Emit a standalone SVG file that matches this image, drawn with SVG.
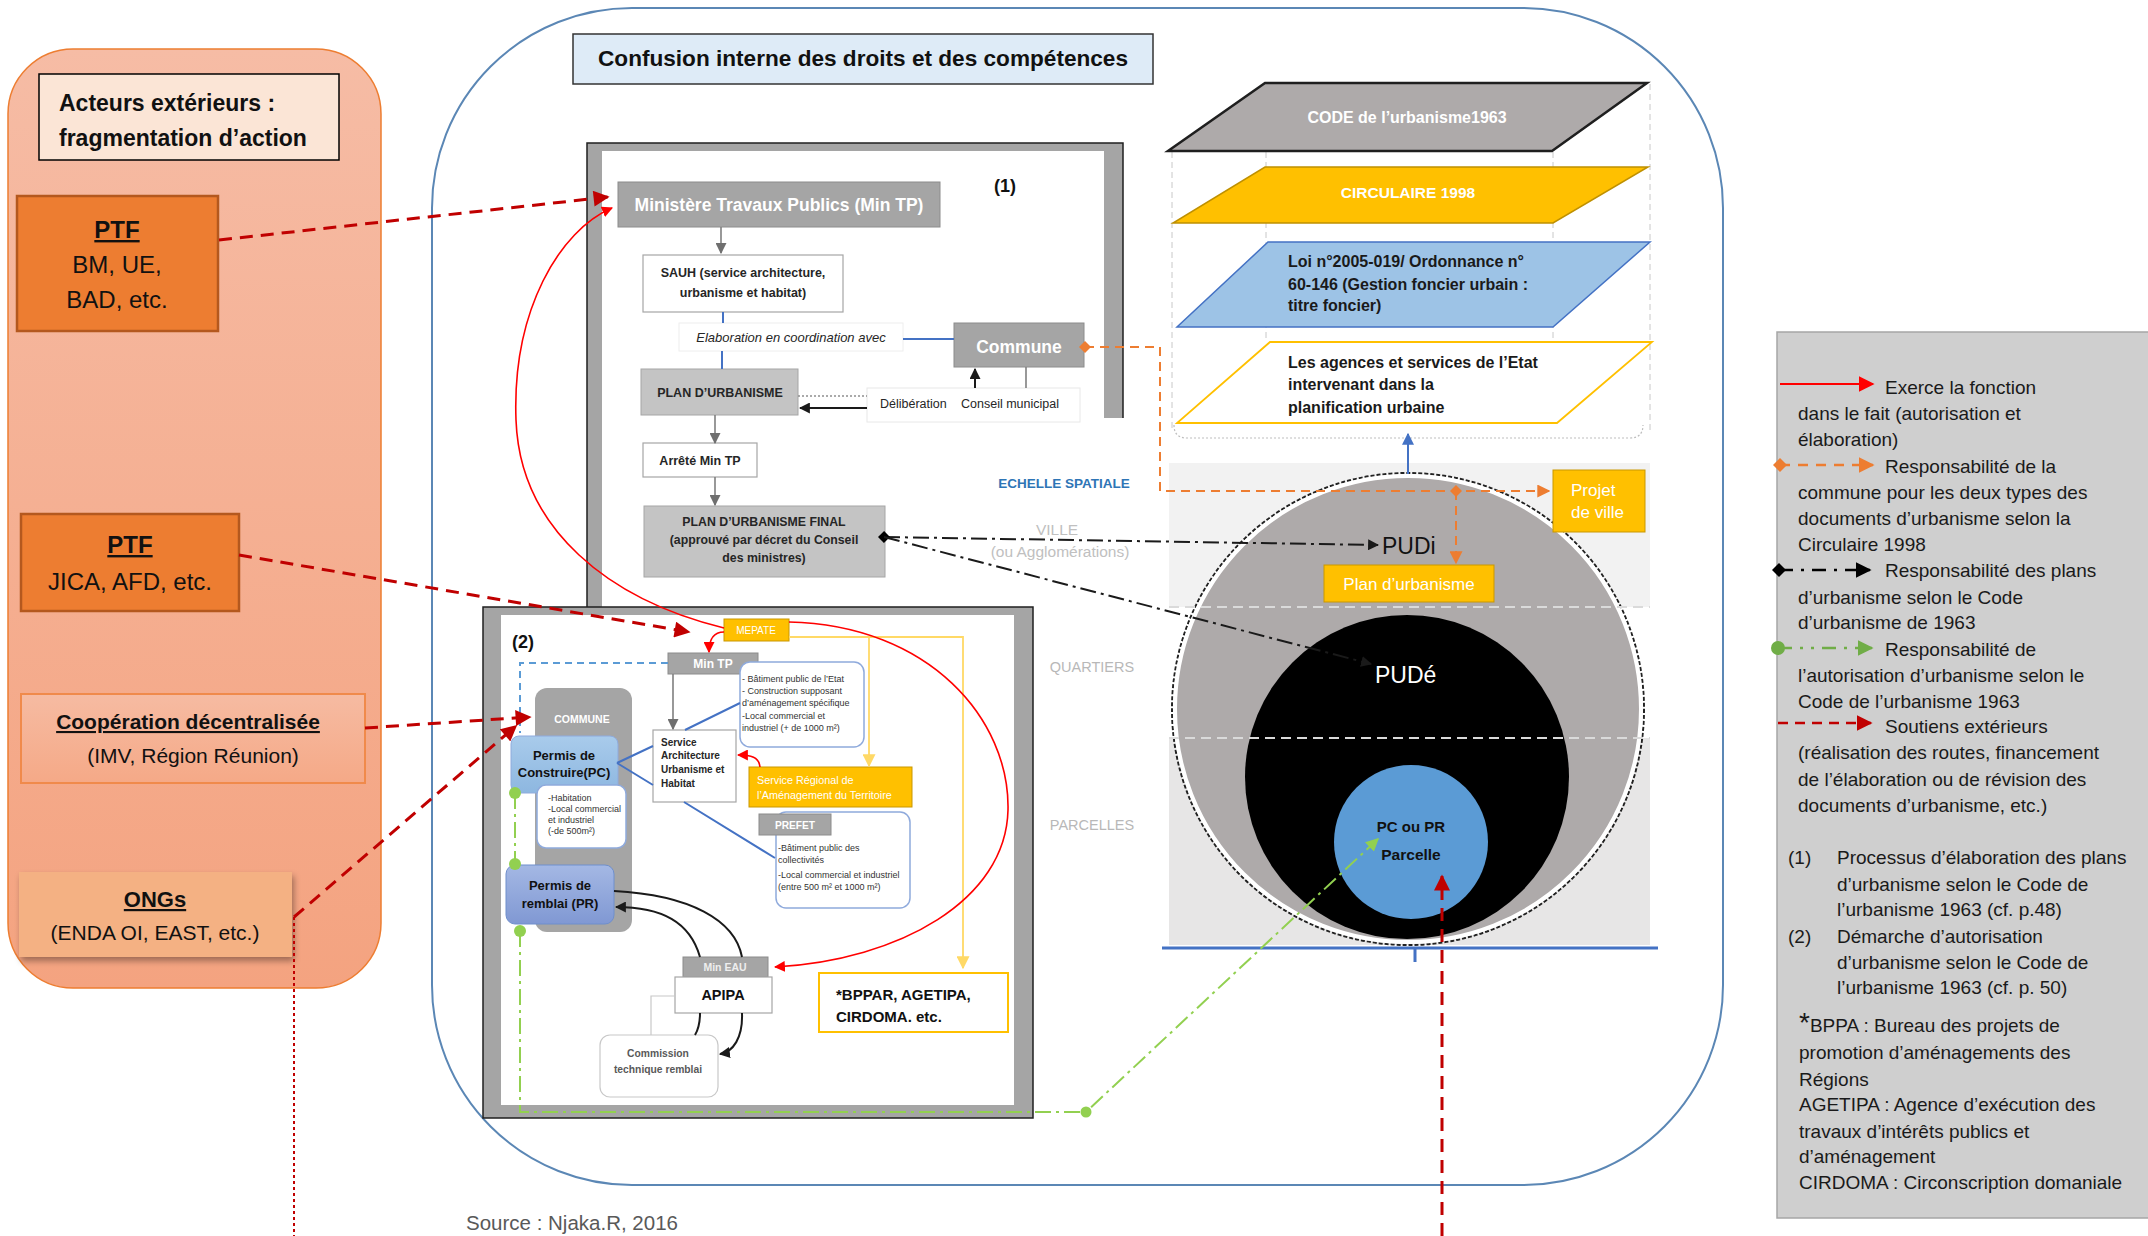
<svg xmlns="http://www.w3.org/2000/svg" width="2148" height="1236" viewBox="0 0 2148 1236">
<defs>
<style>
text{font-family:"Liberation Sans",Arial,sans-serif;}
.b{font-weight:bold}
.i{font-style:italic}
.w{fill:#fff}
.dk{fill:#262626}
.c{text-anchor:middle}
.u{text-decoration:underline}
.lg{font-size:19px;fill:#1a1a1a}
.gbox{fill:#A5A5A5;stroke:#8c8c8c;stroke-width:1}
.wbox{fill:#fff;stroke:#a6a6a6;stroke-width:1.2}
.ybox{fill:#FFC000;stroke:#C99700;stroke-width:1}
.blist{fill:#fff;stroke:#8FAADC;stroke-width:1.5}
.frame{fill:#A5A5A5;stroke:#1f1f1f;stroke-width:1.5}
.sup{fill:none;stroke:#C00000;stroke-width:3;stroke-dasharray:13 8}
.red{fill:none;stroke:#FF0000;stroke-width:1.6}
.blk{fill:none;stroke:#1a1a1a;stroke-width:2}
.gry{fill:none;stroke:#7f7f7f;stroke-width:1.6}
.blu{fill:none;stroke:#4472C4;stroke-width:2}
.org{fill:none;stroke:#ED7D31;stroke-width:2;stroke-dasharray:9 6}
.dd{fill:none;stroke:#1a1a1a;stroke-width:2;stroke-dasharray:16 5 3 5}
.grn{fill:none;stroke:#92D050;stroke-width:2;stroke-dasharray:16 5 3 5}
.yel{fill:none;stroke:#FFD966;stroke-width:1.8}
.vd{fill:none;stroke:#C8C8C8;stroke-width:1;stroke-dasharray:6 4}
.small{font-size:9px;fill:#333}
</style>
<linearGradient id="gLeft" x1="0" y1="0" x2="0" y2="1"><stop offset="0" stop-color="#F6BCA5"/><stop offset="1" stop-color="#F4A380"/></linearGradient>
<linearGradient id="gCoop" x1="0" y1="0" x2="0" y2="1"><stop offset="0" stop-color="#F6BBA2"/><stop offset="1" stop-color="#F5A987"/></linearGradient>
<linearGradient id="gPC" x1="0" y1="0" x2="0" y2="1"><stop offset="0" stop-color="#A9CBEB"/><stop offset="1" stop-color="#8DB7E0"/></linearGradient>
<linearGradient id="gPR" x1="0" y1="0" x2="0" y2="1"><stop offset="0" stop-color="#A4B8E4"/><stop offset="1" stop-color="#8098D3"/></linearGradient>
<filter id="shd" x="-10%" y="-10%" width="130%" height="140%"><feDropShadow dx="2" dy="4" stdDeviation="3" flood-color="#000" flood-opacity="0.35"/></filter>
<marker id="aDRed" viewBox="0 0 10 10" refX="9" refY="5" markerWidth="18" markerHeight="16" markerUnits="userSpaceOnUse" orient="auto"><path d="M0,0 L10,5 L0,10 z" fill="#C00000"/></marker>
<marker id="aRed" viewBox="0 0 10 10" refX="9" refY="5" markerWidth="11" markerHeight="11" markerUnits="userSpaceOnUse" orient="auto"><path d="M0,0 L10,5 L0,10 z" fill="#FF0000"/></marker>
<marker id="aBlk" viewBox="0 0 10 10" refX="9" refY="5" markerWidth="11" markerHeight="11" markerUnits="userSpaceOnUse" orient="auto"><path d="M0,0 L10,5 L0,10 z" fill="#1a1a1a"/></marker>
<marker id="aGry" viewBox="0 0 10 10" refX="9" refY="5" markerWidth="11" markerHeight="11" markerUnits="userSpaceOnUse" orient="auto"><path d="M0,0 L10,5 L0,10 z" fill="#6f6f6f"/></marker>
<marker id="aOrg" viewBox="0 0 10 10" refX="9" refY="5" markerWidth="13" markerHeight="13" markerUnits="userSpaceOnUse" orient="auto"><path d="M0,0 L10,5 L0,10 z" fill="#ED7D31"/></marker>
<marker id="dOrg" viewBox="0 0 10 10" refX="5" refY="5" markerWidth="12" markerHeight="12" markerUnits="userSpaceOnUse" orient="auto"><path d="M0,5 L5,0 L10,5 L5,10 z" fill="#ED7D31"/></marker>
<marker id="dBlk" viewBox="0 0 10 10" refX="5" refY="5" markerWidth="12" markerHeight="12" markerUnits="userSpaceOnUse" orient="auto"><path d="M0,5 L5,0 L10,5 L5,10 z" fill="#000"/></marker>
<marker id="aGrn" viewBox="0 0 10 10" refX="9" refY="5" markerWidth="13" markerHeight="13" markerUnits="userSpaceOnUse" orient="auto"><path d="M0,0 L10,5 L0,10 z" fill="#92D050"/></marker>
<marker id="aYel" viewBox="0 0 10 10" refX="9" refY="5" markerWidth="13" markerHeight="13" markerUnits="userSpaceOnUse" orient="auto"><path d="M0,0 L10,5 L0,10 z" fill="#FFD966"/></marker>
<marker id="aBlu" viewBox="0 0 10 10" refX="9" refY="5" markerWidth="12" markerHeight="12" markerUnits="userSpaceOnUse" orient="auto"><path d="M0,0 L10,5 L0,10 z" fill="#4472C4"/></marker>
<marker id="LaRed" viewBox="0 0 10 10" refX="9" refY="5" markerWidth="16" markerHeight="16" markerUnits="userSpaceOnUse" orient="auto"><path d="M0,0 L10,5 L0,10 z" fill="#FF0000"/></marker>
<marker id="LaOrg" viewBox="0 0 10 10" refX="9" refY="5" markerWidth="16" markerHeight="16" markerUnits="userSpaceOnUse" orient="auto"><path d="M0,0 L10,5 L0,10 z" fill="#ED7D31"/></marker>
<marker id="LdOrg" viewBox="0 0 10 10" refX="5" refY="5" markerWidth="14" markerHeight="14" markerUnits="userSpaceOnUse" orient="auto"><path d="M0,5 L5,0 L10,5 L5,10 z" fill="#ED7D31"/></marker>
<marker id="LaBlk" viewBox="0 0 10 10" refX="9" refY="5" markerWidth="16" markerHeight="16" markerUnits="userSpaceOnUse" orient="auto"><path d="M0,0 L10,5 L0,10 z" fill="#000"/></marker>
<marker id="LdBlk" viewBox="0 0 10 10" refX="5" refY="5" markerWidth="14" markerHeight="14" markerUnits="userSpaceOnUse" orient="auto"><path d="M0,5 L5,0 L10,5 L5,10 z" fill="#000"/></marker>
<marker id="LaGrn" viewBox="0 0 10 10" refX="9" refY="5" markerWidth="16" markerHeight="16" markerUnits="userSpaceOnUse" orient="auto"><path d="M0,0 L10,5 L0,10 z" fill="#70AD47"/></marker>
<marker id="LaDRed" viewBox="0 0 10 10" refX="9" refY="5" markerWidth="16" markerHeight="16" markerUnits="userSpaceOnUse" orient="auto"><path d="M0,0 L10,5 L0,10 z" fill="#C00000"/></marker>
</defs>

<rect x="0" y="0" width="2148" height="1236" fill="#fff"/>

<!-- Left panel -->
<g id="panel-exterieurs">
<rect x="8" y="49" width="373" height="939" rx="65" fill="url(#gLeft)" stroke="#ED7D31" stroke-width="1.5"/>
</g>
<g id="title-exterieurs">
<rect x="39" y="74" width="300" height="86" fill="#FBE5D6" stroke="#000" stroke-width="1.5"/>
<text x="59" y="111" class="b" font-size="23" fill="#111">Acteurs extérieurs :</text>
<text x="59" y="146" class="b" font-size="23" fill="#111">fragmentation d’action</text>
</g>
<g id="ptf1">
<rect x="17" y="196" width="201" height="135" fill="#ED7D31" stroke="#B4581E" stroke-width="2.5"/>
<text x="117" y="238" class="b c u" font-size="24" fill="#111">PTF</text>
<text x="117" y="273" class="c" font-size="24" fill="#111">BM, UE,</text>
<text x="117" y="308" class="c" font-size="24" fill="#111">BAD, etc.</text>
</g>
<g id="ptf2">
<rect x="21" y="514" width="218" height="97" fill="#ED7D31" stroke="#B4581E" stroke-width="2.5"/>
<text x="130" y="553" class="b c u" font-size="24" fill="#111">PTF</text>
<text x="130" y="590" class="c" font-size="24" fill="#111">JICA, AFD, etc.</text>
</g>
<g id="coop">
<rect x="21" y="694" width="344" height="89" fill="url(#gCoop)" stroke="#F08A4B" stroke-width="2"/>
<text x="188" y="729" class="b c u" font-size="21" fill="#111">Coopération décentralisée</text>
<text x="193" y="763" class="c" font-size="21" fill="#111">(IMV, Région Réunion)</text>
</g>
<g id="ongs">
<rect x="19" y="872" width="273" height="85" fill="#F4B183" filter="url(#shd)"/>
<text x="155" y="907" class="b c u" font-size="22" fill="#111">ONGs</text>
<text x="155" y="940" class="c" font-size="21" fill="#111">(ENDA OI, EAST, etc.)</text>
</g>

<!-- main container -->
<g id="container">
<rect x="432" y="8" width="1291" height="1177" rx="200" fill="none" stroke="#5B87B5" stroke-width="2"/>
</g>
<g id="title-confusion">
<rect x="573" y="34" width="580" height="50" fill="#DEEBF7" stroke="#333" stroke-width="1.5"/>
<text x="863" y="66" class="b c" font-size="22" fill="#111" textLength="530" lengthAdjust="spacingAndGlyphs">Confusion interne des droits et des compétences</text>
</g>

<!-- Frame (1) -->
<g id="frame1">
<rect x="587" y="143" width="536" height="475" class="frame"/>
<rect x="602" y="151" width="502" height="470" fill="#fff"/>
<rect x="1034" y="418" width="95" height="205" fill="#fff"/>
<text x="1005" y="192" class="b c" font-size="18" fill="#111">(1)</text>
</g>
<g id="min-tp">
<rect x="618" y="182" width="322" height="45" class="gbox"/>
<text x="779" y="211" class="b c w" font-size="17.5">Ministère Travaux Publics (Min TP)</text>
</g>
<g id="sauh">
<rect x="643" y="255" width="200" height="57" class="wbox"/>
<text x="743" y="277" class="b c dk" font-size="12.5">SAUH (service architecture,</text>
<text x="743" y="297" class="b c dk" font-size="12.5">urbanisme et habitat)</text>
</g>
<g id="elaboration">
<rect x="679" y="323" width="224" height="28" fill="#fff" stroke="#eeeeee"/>
<text x="791" y="342" class="i c dk" font-size="13">Elaboration en coordination avec</text>
</g>
<g id="commune1">
<rect x="954" y="323" width="130" height="44" class="gbox"/>
<text x="1019" y="353" class="b c w" font-size="17.5">Commune</text>
</g>
<g id="plan-urbanisme">
<rect x="641" y="369" width="157" height="46" fill="#C4C4C4" stroke="#a6a6a6"/>
<text x="720" y="397" class="b c dk" font-size="12.5">PLAN D’URBANISME</text>
</g>
<g id="deliberation">
<rect x="867" y="388" width="213" height="34" fill="#fff" stroke="#e8e8e8"/>
<text x="880" y="408" class="dk" font-size="12.5">Délibération</text>
<text x="961" y="408" class="dk" font-size="12.5">Conseil municipal</text>
</g>
<g id="arrete">
<rect x="643" y="443" width="114" height="34" class="wbox"/>
<text x="700" y="465" class="b c dk" font-size="12.5">Arrêté Min TP</text>
</g>
<g id="plan-final">
<rect x="644" y="506" width="241" height="71" fill="#C4C4C4" stroke="#a6a6a6"/>
<text x="764" y="526" class="b c dk" font-size="12.3">PLAN D’URBANISME FINAL</text>
<text x="764" y="544" class="b c dk" font-size="12.3">(approuvé par décret du Conseil</text>
<text x="764" y="562" class="b c dk" font-size="12.3">des ministres)</text>
</g>

<!-- Frame (2) -->
<g id="frame2">
<rect x="483" y="607" width="550" height="511" class="frame"/>
<rect x="501" y="615" width="513" height="490" fill="#fff"/>
<text x="523" y="648" class="b c" font-size="18" fill="#111">(2)</text>
</g>
<g id="mepate">
<rect x="724" y="619" width="65" height="22" class="ybox"/>
<text x="756" y="634" class="c w" font-size="10">MEPATE</text>
</g>
<g id="min-tp2">
<rect x="668" y="653" width="90" height="21" class="gbox"/>
<text x="713" y="668" class="b c w" font-size="12">Min TP</text>
</g>
<g id="list-mintp">
<rect x="740" y="662" width="124" height="85" rx="10" class="blist"/>
<text x="742" y="682" class="small">- Bâtiment public de l’Etat</text>
<text x="742" y="694" class="small">- Construction supposant</text>
<text x="742" y="706" class="small">d’aménagement spécifique</text>
<text x="742" y="719" class="small">-Local commercial et</text>
<text x="742" y="731" class="small">industriel (+ de 1000 m²)</text>
</g>
<g id="commune2">
<rect x="535" y="688" width="97" height="244" rx="12" fill="#A5A5A5"/>
<text x="582" y="723" class="b c w" font-size="10.5">COMMUNE</text>
</g>
<g id="pc">
<rect x="511" y="736" width="107" height="57" rx="8" fill="url(#gPC)" stroke="#8FAADC" stroke-width="1"/>
<text x="564" y="760" class="b c" font-size="13" fill="#111">Permis de</text>
<text x="564" y="777" class="b c" font-size="13" fill="#111">Construire(PC)</text>
</g>
<g id="list-pc">
<rect x="537" y="785" width="89" height="63" rx="9" class="blist"/>
<text x="548" y="801" class="small" font-size="8.5">-Habitation</text>
<text x="548" y="812" class="small" font-size="8.5">-Local commercial</text>
<text x="548" y="823" class="small" font-size="8.5">et industriel</text>
<text x="548" y="834" class="small" font-size="8.5">(-de 500m²)</text>
</g>
<g id="pr">
<rect x="506" y="865" width="108" height="59" rx="9" fill="url(#gPR)" stroke="#6f8fcc" stroke-width="1"/>
<text x="560" y="890" class="b c" font-size="13" fill="#111">Permis de</text>
<text x="560" y="908" class="b c" font-size="13" fill="#111">remblai (PR)</text>
</g>
<g id="service-auh">
<rect x="653" y="730" width="83" height="72" class="wbox"/>
<text x="661" y="746" class="b dk" font-size="10">Service</text>
<text x="661" y="759" class="b dk" font-size="10">Architecture</text>
<text x="661" y="773" class="b dk" font-size="10">Urbanisme et</text>
<text x="661" y="787" class="b dk" font-size="10">Habitat</text>
</g>
<g id="service-regional">
<rect x="749" y="767" width="163" height="40" class="ybox"/>
<text x="757" y="784" class="w" font-size="10.8">Service Régional de</text>
<text x="757" y="799" class="w" font-size="10.8">l’Aménagement du Territoire</text>
</g>
<g id="list-prefet">
<rect x="776" y="812" width="134" height="96" rx="10" class="blist"/>
<text x="778" y="851" class="small">-Bâtiment public  des</text>
<text x="778" y="863" class="small">collectivités</text>
<text x="778" y="878" class="small">-Local commercial et industriel</text>
<text x="778" y="890" class="small">(entre 500 m² et 1000 m²)</text>
</g>
<g id="prefet">
<rect x="759" y="814" width="72" height="21" class="gbox"/>
<text x="795" y="829" class="b c w" font-size="10.2">PREFET</text>
</g>
<g id="min-eau">
<rect x="683" y="957" width="85" height="20" class="gbox"/>
<text x="725" y="971" class="b c" font-size="10.5" fill="#eeeeee">Min EAU</text>
</g>
<g id="apipa">
<rect x="675" y="977" width="97" height="36" class="wbox"/>
<text x="723" y="1000" class="b c" font-size="14.5" fill="#111">APIPA</text>
</g>
<g id="commission">
<rect x="600" y="1035" width="118" height="62" rx="10" fill="#fff" stroke="#c8c8c8" stroke-width="1.2"/>
<text x="658" y="1057" class="b c" font-size="10.3" fill="#595959">Commission</text>
<text x="658" y="1073" class="b c" font-size="10.3" fill="#595959">technique remblai</text>
</g>
<g id="bppar">
<rect x="819" y="973" width="189" height="59" fill="#fff" stroke="#FFC000" stroke-width="2"/>
<text x="836" y="1000" class="b" font-size="15" fill="#111">*BPPAR, AGETIPA,</text>
<text x="836" y="1022" class="b" font-size="15" fill="#111">CIRDOMA. etc.</text>
</g>

<!-- Right: legal planes -->
<g id="planes-outline">
<path d="M1174,425 Q1174,438 1187,438 L1630,438 Q1643,438 1643,425" fill="none" stroke="#BDBDBD" stroke-width="1.2" stroke-dasharray="2 2"/>
<path d="M1172,152 L1172,430 M1266,152 L1266,342 M1553,152 L1553,342 M1650,84 L1650,430" class="vd"/>
</g>
<g id="plane-code">
<polygon points="1265,83 1647,83 1552,151 1168,151" fill="#AEAAAA" stroke="#1f1f1f" stroke-width="2.5"/>
<text x="1407" y="123" class="b c w" font-size="16">CODE de l’urbanisme1963</text>
</g>
<g id="plane-circulaire">
<polygon points="1265,167 1648,167 1553,223 1173,223" fill="#FFC000" stroke="#BF9000" stroke-width="1.5"/>
<text x="1408" y="198" class="b c w" font-size="15.5">CIRCULAIRE 1998</text>
</g>
<g id="plane-loi">
<polygon points="1268,242 1650,242 1553,327 1177,327" fill="#9DC3E6" stroke="#4472C4" stroke-width="1.5"/>
<text x="1288" y="267" class="b" font-size="16" fill="#1a1a1a">Loi n°2005-019/ Ordonnance n°</text>
<text x="1288" y="290" class="b" font-size="16" fill="#1a1a1a">60-146 (Gestion foncier urbain :</text>
<text x="1288" y="311" class="b" font-size="16" fill="#1a1a1a">titre foncier)</text>
</g>
<g id="plane-agences">
<polygon points="1270,342 1652,342 1557,423 1177,423" fill="#fff" stroke="#FFC000" stroke-width="1.8"/>
<text x="1288" y="368" class="b" font-size="16" fill="#1a1a1a">Les agences et services de l’Etat</text>
<text x="1288" y="390" class="b" font-size="16" fill="#1a1a1a">intervenant dans la</text>
<text x="1288" y="413" class="b" font-size="16" fill="#1a1a1a">planification urbaine</text>
</g>

<!-- Spatial scale -->
<g id="echelle">
<rect x="1169" y="463" width="481" height="144" fill="#F2F2F2"/>
<rect x="1169" y="738" width="481" height="207" fill="#E7E6E6"/>
<text x="1064" y="488" class="b c" font-size="13.5" fill="#2E75B6">ECHELLE SPATIALE</text>
<text x="1057" y="535" class="c" font-size="15.5" fill="#C0C0C0">VILLE</text>
<text x="1060" y="557" class="c" font-size="15.5" fill="#C0C0C0">(ou Agglomérations)</text>
<text x="1092" y="672" class="c" font-size="14.5" fill="#B8B8B8">QUARTIERS</text>
<text x="1092" y="830" class="c" font-size="14.5" fill="#B8B8B8">PARCELLES</text>
</g>
<g id="circle-ville">
<circle cx="1408" cy="709" r="236" fill="none" stroke="#222" stroke-width="2" stroke-dasharray="4 2"/>
<circle cx="1408" cy="709" r="233" fill="#AEAAAA" stroke="#fff" stroke-width="4"/>
<text x="1382" y="554" font-size="23" fill="#111">PUDi</text>
</g>
<g id="circle-quartier">
<circle cx="1407" cy="777" r="162" fill="#000"/>
<text x="1375" y="683" font-size="23" fill="#fff">PUDé</text>
</g>
<g id="band-lines">
<path d="M1169,607 L1650,607 M1169,738 L1650,738" fill="none" stroke="#DADADA" stroke-width="2" stroke-dasharray="10 6"/>
</g>
<g id="circle-parcelle">
<circle cx="1411" cy="842" r="77" fill="#5B9BD5"/>
<text x="1411" y="832" class="b c" font-size="15" fill="#111">PC ou PR</text>
<text x="1411" y="860" class="b c" font-size="15.5" fill="#111">Parcelle</text>
</g>
<g id="projet-ville">
<rect x="1553" y="470" width="92" height="62" class="ybox"/>
<text x="1571" y="496" class="w" font-size="17">Projet</text>
<text x="1571" y="518" class="w" font-size="17">de ville</text>
</g>
<g id="plan-urba-box">
<rect x="1324" y="565" width="170" height="37" class="ybox"/>
<text x="1409" y="590" class="c w" font-size="17">Plan d’urbanisme</text>
</g>
<g id="axis">
<path d="M1162,948 L1658,948 M1415,948 L1415,962" fill="none" stroke="#4472C4" stroke-width="3"/>
</g>

<!-- Legend -->
<g id="legend">
<rect x="1777" y="332" width="375" height="886" fill="#CFCFCF" stroke="#A6A6A6" stroke-width="1.5"/>
<path d="M1780,384 L1873,384" fill="none" stroke="#FF0000" stroke-width="2" marker-end="url(#LaRed)"/>
<text x="1885" y="394" class="lg">Exerce la fonction</text>
<text x="1798" y="420" class="lg">dans le fait (autorisation et</text>
<text x="1798" y="446" class="lg">élaboration)</text>
<path d="M1780,465 L1873,465" fill="none" stroke="#ED7D31" stroke-width="2.5" stroke-dasharray="10 8" marker-start="url(#LdOrg)" marker-end="url(#LaOrg)"/>
<text x="1885" y="473" class="lg">Responsabilité de la</text>
<text x="1798" y="499" class="lg">commune pour les deux types des</text>
<text x="1798" y="525" class="lg">documents d’urbanisme selon la</text>
<text x="1798" y="551" class="lg">Circulaire 1998</text>
<path d="M1779,570 L1870,570" fill="none" stroke="#000" stroke-width="2.5" stroke-dasharray="14 8 3 8" marker-start="url(#LdBlk)" marker-end="url(#LaBlk)"/>
<text x="1885" y="577" class="lg">Responsabilité des plans</text>
<text x="1798" y="604" class="lg">d’urbanisme selon le Code</text>
<text x="1798" y="629" class="lg">d’urbanisme de 1963</text>
<circle cx="1778" cy="648" r="7" fill="#70AD47"/>
<path d="M1778,648 L1872,648" fill="none" stroke="#70AD47" stroke-width="2.5" stroke-dasharray="14 8 3 8 3 8" marker-end="url(#LaGrn)"/>
<text x="1885" y="656" class="lg">Responsabilité de</text>
<text x="1798" y="682" class="lg">l’autorisation d’urbanisme selon le</text>
<text x="1798" y="708" class="lg">Code de l’urbanisme 1963</text>
<path d="M1778,723 L1871,723" fill="none" stroke="#C00000" stroke-width="2.5" stroke-dasharray="10 7" marker-end="url(#LaDRed)"/>
<text x="1885" y="733" class="lg">Soutiens extérieurs</text>
<text x="1798" y="759" class="lg">(réalisation des routes, financement</text>
<text x="1798" y="786" class="lg">de l’élaboration ou de révision des</text>
<text x="1798" y="812" class="lg">documents d’urbanisme, etc.)</text>
<text x="1788" y="864" class="lg">(1)</text>
<text x="1837" y="864" class="lg">Processus d’élaboration des plans</text>
<text x="1837" y="891" class="lg">d’urbanisme selon le Code de</text>
<text x="1837" y="916" class="lg">l’urbanisme 1963 (cf. p.48)</text>
<text x="1788" y="943" class="lg">(2)</text>
<text x="1837" y="943" class="lg">Démarche d’autorisation</text>
<text x="1837" y="969" class="lg">d’urbanisme selon le Code de</text>
<text x="1837" y="994" class="lg">l’urbanisme 1963 (cf. p. 50)</text>
<text x="1799" y="1032" class="lg"><tspan font-size="28">*</tspan>BPPA : Bureau des projets de</text>
<text x="1799" y="1059" class="lg">promotion d’aménagements des</text>
<text x="1799" y="1086" class="lg">Régions</text>
<text x="1799" y="1111" class="lg">AGETIPA : Agence d’exécution des</text>
<text x="1799" y="1138" class="lg">travaux d’intérêts publics et</text>
<text x="1799" y="1163" class="lg">d’aménagement</text>
<text x="1799" y="1189" class="lg">CIRDOMA : Circonscription domaniale</text>
</g>

<g id="source">
<text x="466" y="1230" font-size="20.5" fill="#595959">Source : Njaka.R, 2016</text>
</g>

<!-- Connectors -->
<g id="connectors">
<path d="M721,227 L721,253" class="gry" marker-end="url(#aGry)"/>
<path d="M723,312 L723,323 M722,351 L722,369 M903,339 L954,339" class="blu"/>
<path d="M1026,367 L1026,388" class="gry"/>
<path d="M975,388 L975,369" class="blk" stroke-width="1.6" marker-end="url(#aBlk)"/>
<path d="M798,396 L867,396" fill="none" stroke="#8f8f8f" stroke-width="1.5" stroke-dasharray="2 2"/>
<path d="M867,408 L800,408" class="blk" stroke-width="1.8" marker-end="url(#aBlk)"/>
<path d="M715,415 L715,443" class="gry" marker-end="url(#aGry)"/>
<path d="M715,477 L715,505" class="gry" marker-end="url(#aGry)"/>
<path d="M668,663 L520,663 L520,733" fill="none" stroke="#5B9BD5" stroke-width="2" stroke-dasharray="7 5"/>
<path d="M673,674 L673,729" class="gry" stroke-width="1.2" marker-end="url(#aGry)"/>
<path d="M685,730 L740,703 M617,763 L653,746 M617,763 L653,785 M684,802 L775,858" class="blu" stroke-width="1.8"/>
<path d="M789,637 L963,637 L963,968" class="yel" marker-end="url(#aYel)"/>
<path d="M869,637 L869,766" class="yel" marker-end="url(#aYel)"/>
<path d="M724,632 C713,632 709,640 709,652" class="red" marker-end="url(#aRed)"/>
<path d="M760,767 C759,757 751,755 738,755" class="red" marker-end="url(#aRed)"/>
<path d="M789,622 C930,625 1010,720 1008,810 C1006,900 900,960 775,967" class="red" marker-end="url(#aRed)"/>
<path d="M724,628 C610,600 520,530 516,420 C512,310 560,230 612,208" class="red" marker-end="url(#aRed)"/>
<path d="M614,891 C690,895 735,920 742,957" class="blk"/>
<path d="M700,957 C690,922 662,907 616,907" class="blk" marker-end="url(#aBlk)"/>
<path d="M700,1013 C700,1024 698,1030 695,1035" class="blk"/>
<path d="M742,1013 C743,1038 733,1052 720,1054" class="blk" marker-end="url(#aBlk)"/>
<path d="M675,996 L651,996 L651,1035" fill="none" stroke="#c8c8c8" stroke-width="1.2"/>
<path d="M515,793 L515,864" class="grn"/>
<path d="M520,931 L520,1112 L1086,1112 L1378,839" class="grn" marker-end="url(#aGrn)"/>
<circle cx="515" cy="793" r="6" fill="#92D050"/>
<circle cx="515" cy="864" r="6" fill="#92D050"/>
<circle cx="520" cy="931" r="6" fill="#92D050"/>
<circle cx="1086" cy="1112" r="5.5" fill="#92D050"/>
<path d="M1085,347 L1160,347 L1160,491 L1549,491" class="org" marker-start="url(#dOrg)" marker-end="url(#aOrg)"/>
<path d="M1456,491 L1456,563" class="org" marker-start="url(#dOrg)" marker-end="url(#aOrg)"/>
<path d="M884,537 L1378,545" class="dd" marker-start="url(#dBlk)" marker-end="url(#aBlk)"/>
<path d="M884,537 L1371,664" class="dd" marker-end="url(#aBlk)"/>
<path d="M1408,474 L1408,434" class="blu" stroke-width="3" marker-end="url(#aBlu)"/>
<path d="M219,240 L608,197" class="sup" marker-end="url(#aDRed)"/>
<path d="M239,555 L689,632" class="sup" marker-end="url(#aDRed)"/>
<path d="M365,728 L530,717" class="sup" marker-end="url(#aDRed)"/>
<path d="M294,917 L516,726" class="sup" marker-end="url(#aDRed)"/>
<path d="M1442,1236 L1442,876" class="sup" marker-end="url(#aDRed)"/>
<path d="M294,917 L294,1236" fill="none" stroke="#C00000" stroke-width="2" stroke-dasharray="3 3"/>
</g>
</svg>
